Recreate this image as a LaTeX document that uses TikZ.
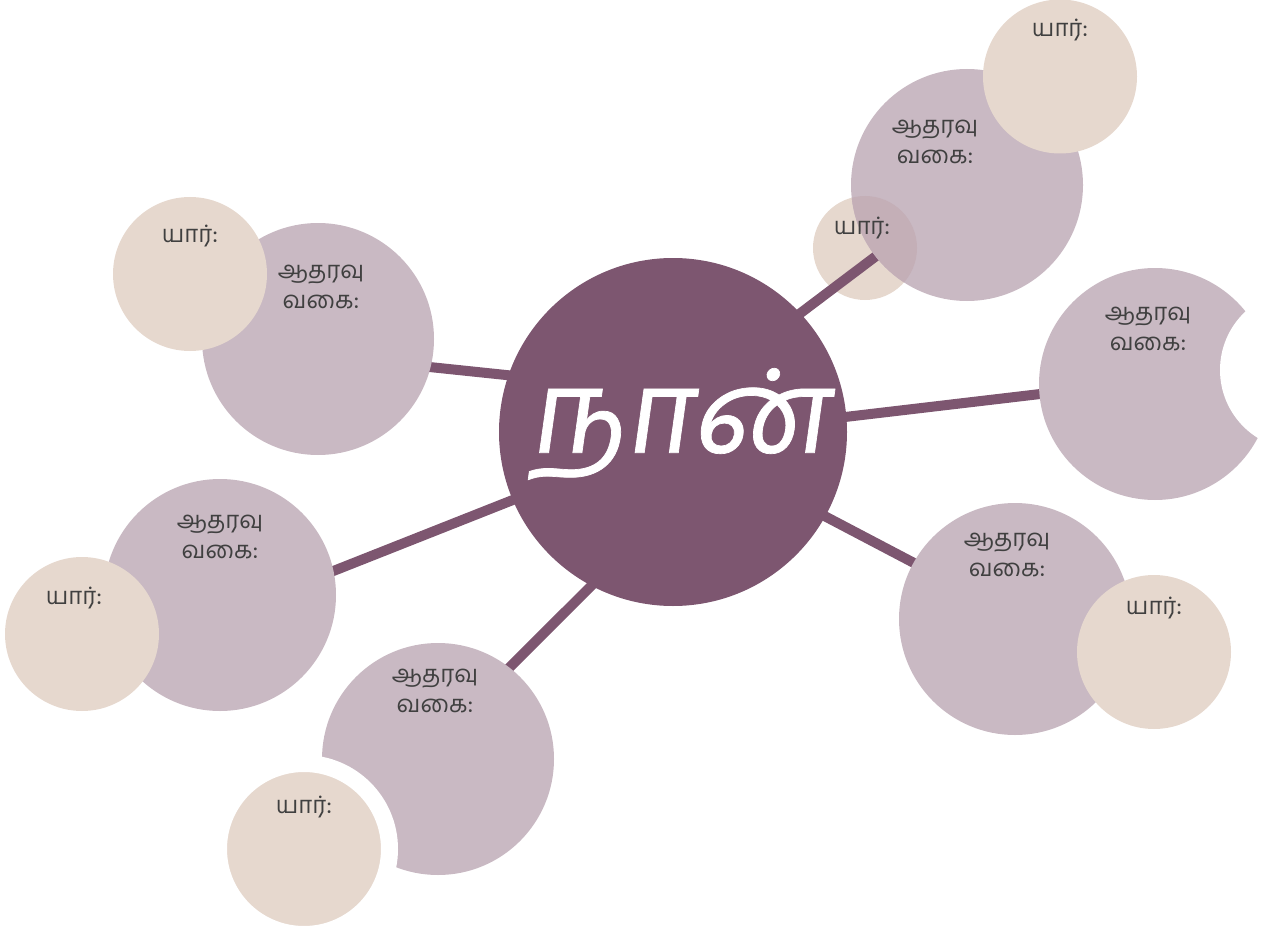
\documentclass[tikz,border=0pt]{standalone}
\usepackage{fontspec}
\newfontfamily\tamil[Script=Tamil]{Hind Madurai}
\newfontfamily\tamilbig[Script=Tamil,FakeSlant=0.14,FakeBold=0.6]{Hind Madurai}
\usetikzlibrary{backgrounds}

\definecolor{plum}{HTML}{7D5670}
\definecolor{mauve}{HTML}{C9B9C3}
\definecolor{sand}{HTML}{E6D8CE}
\definecolor{ink}{HTML}{404040}
\definecolor{blend}{HTML}{C4AFB7}

\tikzset{
  me/.style = {circle, fill=plum, minimum size=174pt, inner sep=0pt},
  kind/.style = {circle, fill=mauve, minimum size=116pt, inner sep=0pt},
  who/.style = {circle, fill=sand, minimum size=77pt, inner sep=0pt},
  link/.style = {draw=plum, line width=5pt, shorten <=-4pt, shorten >=-4pt},
  txt/.style = {text=ink, font=\tamil\fontsize{12}{15}\selectfont, align=center, inner sep=0pt},
}

\begin{document}
\begin{tikzpicture}[x=0.5pt, y=-0.5pt]
\useasboundingbox (0,0) rectangle (1270,931);

\node[me] (hub) at (673,432) {};
\node[kind] (k1) at (318,339) {};
\node[kind] (k2) at (967,185) {};
\node[kind] (k3) at (220,595) {};
\node[kind] (k4) at (1155,384) {};
\node[kind] (k5) at (1015,619) {};
\node[kind] (k6) at (438,759) {};

% small one sits under the spoke
\begin{scope}[on background layer]
\node[who, minimum size=52pt] (ws) at (865,248) {};
\draw[link] (hub.43.6) -- (k2.218.4);
\draw[link] (hub.5) -- (k4.185.5);
\draw[link] (hub.-29.8) -- (k5.151.2);
\draw[link] (hub.-118.5) -- (k6.52);
\draw[link] (hub.203) -- (k3.12.6);
\draw[link] (hub.161.9) -- (k1.-14.5);
\end{scope}

\begin{scope}
\clip (k2.center) circle (58pt);
\fill[blend] (ws.center) circle (26pt);
\end{scope}

\node[circle, fill=white, minimum size=80pt, inner sep=0pt] (cut) at (1300,370) {};
\node[who] (w1) at (190,274) {};
\node[who] (w2) at (1060,76.5) {};
\node[who] (w3) at (82,634) {};
\node[who] (w5) at (1154,652) {};
\node[who, minimum size=85.5pt, draw=white, line width=8.5pt] (w6) at (304,849) {};

\node[txt] (lk1) at (321,286.5) {ஆதரவு\\வகை:};
\node[txt] (lk2) at (935,141.5) {ஆதரவு\\வகை:};
\node[txt] (lk3) at (220,536.5) {ஆதரவு\\வகை:};
\node[txt] (lk4) at (1148,328.5) {ஆதரவு\\வகை:};
\node[txt] (lk5) at (1007,554.5) {ஆதரவு\\வகை:};
\node[txt] (lk6) at (435,691) {ஆதரவு\\வகை:};

\node[txt] (lw1) at (190,236) {யார்:};
\node[txt] (lw2) at (1060,30) {யார்:};
\node[txt] (lw3) at (74,598) {யார்:};
\node[txt] (lws) at (862,228) {யார்:};
\node[txt] (lw5) at (1154,608) {யார்:};
\node[txt] (lw6) at (304,807) {யார்:};

\node[text=white, inner sep=0pt, font=\tamilbig\fontsize{58}{58}\selectfont] (name) at (679,424) {நான்};
\end{tikzpicture}
\end{document}
